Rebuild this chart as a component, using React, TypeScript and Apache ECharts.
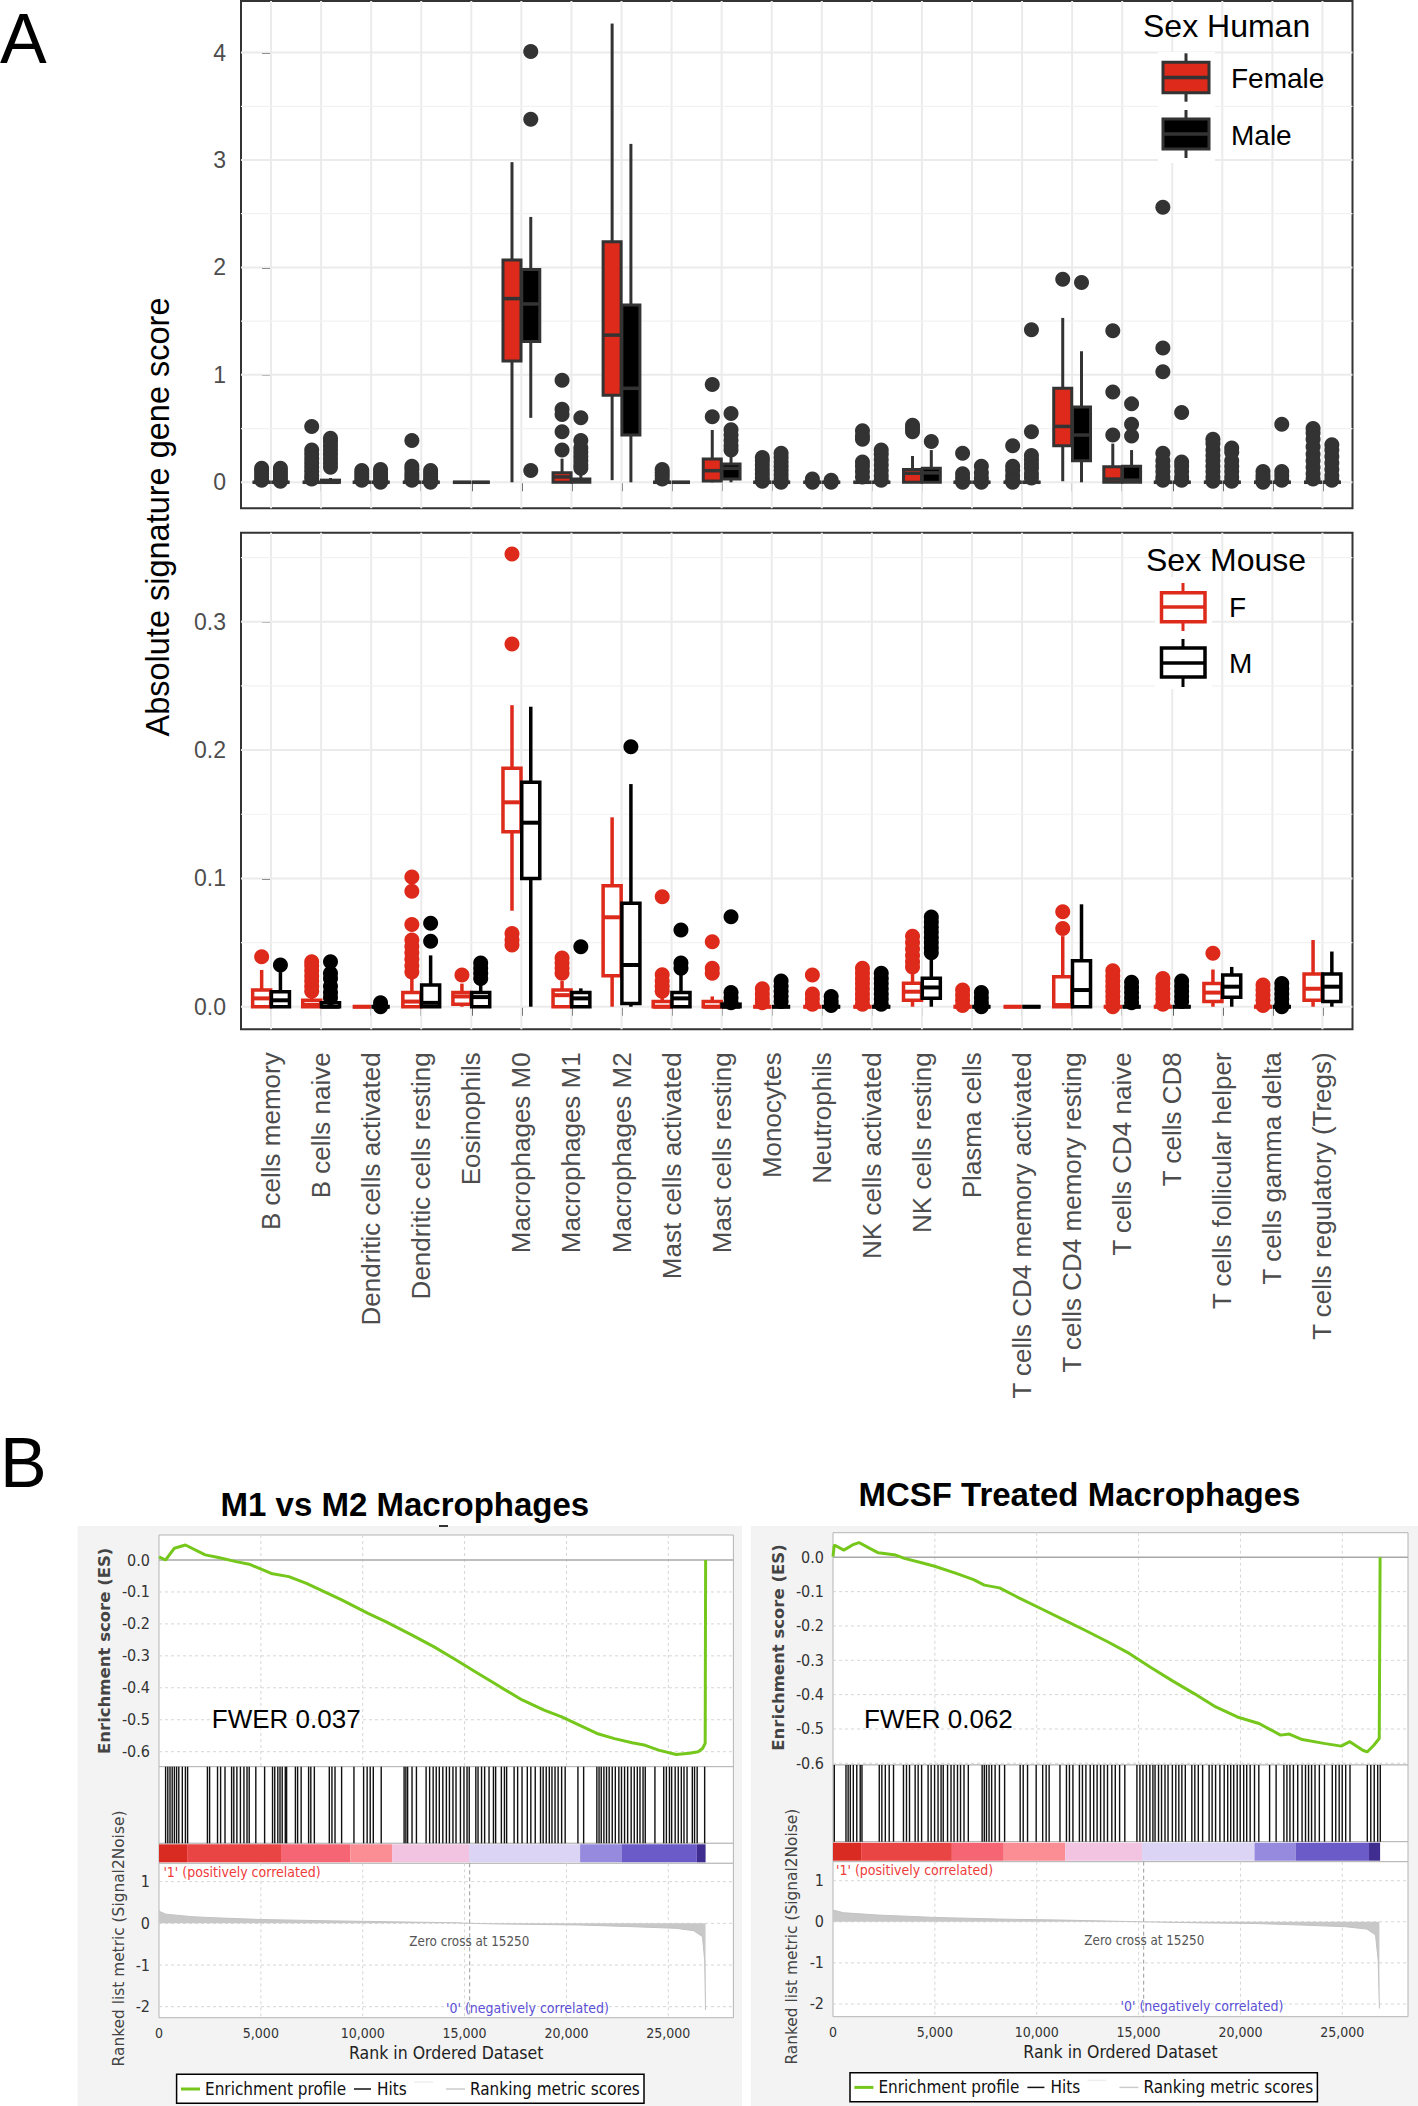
import React, { useEffect, useRef } from 'react';
import * as echarts from 'echarts';

// ---------------- DATA ----------------
const categories = [
  'B cells memory', 'B cells naive', 'Dendritic cells activated', 'Dendritic cells resting', 'Eosinophils',
  'Macrophages M0', 'Macrophages M1', 'Macrophages M2', 'Mast cells activated', 'Mast cells resting',
  'Monocytes', 'Neutrophils', 'NK cells activated', 'NK cells resting', 'Plasma cells',
  'T cells CD4 memory activated', 'T cells CD4 memory resting', 'T cells CD4 naive', 'T cells CD8',
  'T cells follicular helper', 'T cells gamma delta', 'T cells regulatory (Tregs)',
];

// box = [min, q1, median, q3, max]
const humanFemaleBox = [
  [0, 0, 0, 0, 0], [0, 0, 0, 0, 0], [0, 0, 0, 0, 0], [0, 0, 0, 0, 0], [0, 0, 0, 0, 0],
  [0, 1.13, 1.71, 2.07, 2.98], [0, 0, 0.05, 0.09, 0.22], [0.02, 0.81, 1.37, 2.24, 4.27], [0, 0, 0, 0, 0], [0, 0.012, 0.108, 0.217, 0.487],
  [0, 0, 0, 0, 0], [0, 0, 0, 0, 0], [0, 0, 0, 0, 0], [0, 0, 0.084, 0.12, 0.245], [0, 0, 0, 0, 0],
  [0, 0, 0, 0, 0], [0.01, 0.34, 0.52, 0.875, 1.53], [0, 0, 0.03, 0.145, 0.36], [0, 0, 0, 0, 0],
  [0, 0, 0, 0, 0], [0, 0, 0, 0, 0], [0, 0, 0, 0, 0],
];
const humanMaleBox = [
  [0, 0, 0, 0, 0], [0, 0, 0, 0.02, 0.04], [0, 0, 0, 0, 0], [0, 0, 0, 0, 0], [0, 0, 0, 0, 0],
  [0.6, 1.31, 1.66, 1.98, 2.47], [0, 0, 0.01, 0.03, 0.07], [0, 0.44, 0.875, 1.65, 3.15], [0, 0, 0, 0, 0], [0, 0.03, 0.13, 0.17, 0.25],
  [0, 0, 0, 0, 0], [0, 0, 0, 0, 0], [0, 0, 0, 0, 0], [0, 0, 0.088, 0.13, 0.3], [0, 0, 0, 0, 0],
  [0, 0, 0, 0, 0], [0, 0.2, 0.44, 0.7, 1.22], [0, 0, 0.02, 0.15, 0.3], [0, 0, 0, 0, 0],
  [0, 0, 0, 0, 0], [0, 0, 0, 0, 0], [0, 0, 0, 0, 0],
];
const humanFemaleOut = [
  [0.13, 0.11, 0.08, 0.05, 0.02], [0.52, 0.3, 0.26, 0.22, 0.18, 0.14, 0.1, 0.06, 0.03], [0.11, 0.08, 0.05, 0.02],
  [0.39, 0.15, 0.12, 0.08, 0.05, 0.02], [], [], [0.95, 0.68, 0.63, 0.47, 0.3], [], [0.12, 0.09, 0.06, 0.03],
  [0.91, 0.61], [0.23, 0.2, 0.16, 0.12, 0.08, 0.04, 0.01], [0.03, 0.0], [0.48, 0.43, 0.4, 0.19, 0.15, 0.1, 0.05],
  [0.53, 0.5, 0.47], [0.27, 0.08, 0.04, 0.0], [0.34, 0.15, 0.11, 0.06, 0.02, 0.0], [1.89], [1.41, 0.84, 0.44],
  [2.56, 1.25, 1.03, 0.27, 0.2, 0.15, 0.1, 0.05, 0.02], [0.4, 0.36, 0.3, 0.25, 0.2, 0.15, 0.1, 0.05, 0.01],
  [0.1, 0.06, 0.03, 0.0], [0.5, 0.46, 0.4, 0.33, 0.26, 0.2, 0.14, 0.08, 0.03],
];
const humanMaleOut = [
  [0.13, 0.1, 0.07, 0.04, 0.01], [0.41, 0.38, 0.34, 0.3, 0.26, 0.22, 0.18, 0.14], [0.12, 0.09, 0.06, 0.03, 0.0],
  [0.11, 0.08, 0.05, 0.02, 0.0], [], [4.01, 3.38, 0.11], [0.6, 0.39, 0.32, 0.28, 0.24, 0.2, 0.16, 0.13], [], [],
  [0.64, 0.49, 0.44, 0.39, 0.34, 0.3], [0.27, 0.23, 0.19, 0.15, 0.11, 0.07, 0.03, 0.0], [0.02, 0.0],
  [0.3, 0.26, 0.21, 0.16, 0.11, 0.06, 0.02], [0.38], [0.15, 0.09, 0.04, 0.0], [1.42, 0.47, 0.25, 0.21, 0.17, 0.13, 0.08, 0.04],
  [1.86], [0.73, 0.54, 0.43], [0.65, 0.19, 0.15, 0.1, 0.05, 0.02], [0.32, 0.28, 0.2, 0.15, 0.1, 0.05, 0.01],
  [0.54, 0.1, 0.06, 0.02], [0.35, 0.3, 0.24, 0.18, 0.12, 0.06, 0.02],
];

const mouseFemaleBox = [
  [0, 0, 0.0065, 0.013, 0.0286], [0, 0, 0.0015, 0.005, 0.01], [0, 0, 0, 0, 0], [0, 0, 0.004, 0.011, 0.024], [0, 0.002, 0.008, 0.011, 0.018],
  [0.0748, 0.1364, 0.1593, 0.1858, 0.235], [0, 0, 0.009, 0.013, 0.02], [0, 0.0242, 0.0697, 0.0943, 0.1476], [0, 0, 0, 0.004, 0.008], [0, 0, 0, 0.004, 0.008],
  [0, 0, 0, 0, 0], [0, 0, 0, 0, 0], [0, 0, 0, 0, 0], [0, 0.005, 0.0117, 0.0182, 0.0286], [0, 0, 0, 0, 0],
  [0, 0, 0, 0, 0], [0, 0, 0.0013, 0.0234, 0.055], [0, 0, 0, 0, 0], [0, 0, 0, 0, 0],
  [0, 0.004, 0.011, 0.018, 0.029], [0, 0, 0, 0, 0], [0, 0.005, 0.014, 0.0255, 0.052],
];
const mouseMaleBox = [
  [0, 0, 0.005, 0.0117, 0.027], [0, 0, 0, 0.003, 0.007], [0, 0, 0, 0, 0], [0, 0, 0.003, 0.017, 0.04], [0, 0, 0.0075, 0.011, 0.017],
  [0, 0.1, 0.1434, 0.1749, 0.2338], [0, 0, 0.0065, 0.011, 0.0143], [0, 0.0026, 0.0325, 0.0806, 0.1735], [0, 0, 0.0065, 0.011, 0.0312], [0, 0, 0, 0.002, 0.004],
  [0, 0, 0, 0, 0], [0, 0, 0, 0, 0], [0, 0, 0, 0, 0], [0, 0.0065, 0.015, 0.0221, 0.0377], [0, 0, 0, 0, 0],
  [0, 0, 0, 0, 0], [0, 0, 0.013, 0.0358, 0.0798], [0, 0, 0, 0, 0], [0, 0, 0, 0, 0],
  [0, 0.0073, 0.0156, 0.0247, 0.031], [0, 0, 0, 0, 0], [0, 0.004, 0.0156, 0.0255, 0.043],
];
const mouseFemaleOut = [
  [0.039], [0.035, 0.032, 0.028, 0.024, 0.02, 0.016, 0.012], [], [0.101, 0.09, 0.064, 0.052, 0.047, 0.042, 0.037, 0.032, 0.027],
  [0.0247], [0.3528, 0.2826, 0.057, 0.052, 0.048], [0.038, 0.034, 0.03, 0.026], [], [0.0857, 0.025, 0.02, 0.016, 0.012],
  [0.0507, 0.03, 0.026], [0.014, 0.01, 0.006, 0.003], [0.0247, 0.01, 0.006, 0.002], [0.03, 0.026, 0.022, 0.018, 0.014, 0.01, 0.006, 0.002],
  [0.055, 0.05, 0.045, 0.04, 0.035, 0.031], [0.013, 0.009, 0.005, 0.001], [], [0.074, 0.061],
  [0.028, 0.024, 0.02, 0.016, 0.012, 0.008, 0.004, 0.0], [0.022, 0.018, 0.014, 0.01, 0.006, 0.002], [0.0416],
  [0.017, 0.013, 0.009, 0.005, 0.001], [],
];
const mouseMaleOut = [
  [0.0325], [0.035, 0.026, 0.022, 0.016, 0.011, 0.007], [0.003, 0.0], [0.065, 0.051], [0.034, 0.03, 0.026, 0.022],
  [], [0.0468], [0.2026], [0.0597, 0.034, 0.03], [0.0701, 0.011, 0.007, 0.003], [0.02, 0.016, 0.012, 0.008, 0.004],
  [0.008, 0.004, 0.001], [0.026, 0.022, 0.018, 0.014, 0.01, 0.006, 0.002], [0.07, 0.066, 0.062, 0.058, 0.054, 0.05, 0.046, 0.042],
  [0.011, 0.007, 0.003, 0.0], [], [], [0.019, 0.015, 0.011, 0.007, 0.003], [0.02, 0.016, 0.012, 0.008, 0.004], [],
  [0.018, 0.014, 0.01, 0.006, 0.002, 0.0], [],
];

const humanYTicks = [0, 1, 2, 3, 4];
const humanYMinor = [0.5, 1.5, 2.5, 3.5];
const mouseYTicks = [0, 0.1, 0.2, 0.3];
const mouseYMinor = [0.05, 0.15, 0.25, 0.35];

// GSEA
const rankTicks = [0, 5000, 10000, 15000, 20000, 25000];
const esTicks = [0, -0.1, -0.2, -0.3, -0.4, -0.5, -0.6];
const metricTicks = [1, 0, -1, -2];
const zeroCross = 15250;

const esLeft = [
  [0, 0.01], [324, 0.0], [756, 0.037], [1296, 0.047], [2268, 0.016], [2917, 0.008], [3781, -0.005], [4429, -0.013],
  [5510, -0.042], [6374, -0.052], [7238, -0.073], [8103, -0.099], [8967, -0.125], [10262, -0.167], [11127, -0.193],
  [12423, -0.235], [13504, -0.272], [14584, -0.313], [15664, -0.355], [16744, -0.397], [17824, -0.438], [18904, -0.47],
  [19768, -0.491], [20632, -0.517], [21496, -0.543], [22360, -0.559], [23224, -0.572], [23872, -0.58], [24520, -0.595],
  [25384, -0.609], [26032, -0.605], [26464, -0.6], [26680, -0.59], [26810, -0.574], [26832, 0.0],
];
const esRight = [
  [0, 0.002], [64, 0.036], [531, 0.021], [955, 0.036], [1273, 0.043], [1804, 0.026], [2229, 0.013], [3078, 0.0065],
  [3503, -0.003], [4352, -0.016], [4989, -0.026], [6050, -0.047], [6900, -0.065], [7431, -0.081], [8174, -0.089],
  [9023, -0.115], [10297, -0.152], [11358, -0.183], [12420, -0.214], [13481, -0.246], [14542, -0.28], [15604, -0.321],
  [16665, -0.36], [17727, -0.397], [18788, -0.436], [19849, -0.465], [20911, -0.484], [21972, -0.518], [22397, -0.515],
  [23034, -0.531], [24095, -0.542], [24944, -0.55], [25369, -0.537], [26006, -0.562], [26219, -0.567], [26537, -0.548],
  [26813, -0.528], [26856, 0.0],
];
const metricLeft = [
  [0, 0.3], [65, 0.28], [324, 0.22], [1620, 0.16], [2700, 0.134], [4860, 0.094], [8100, 0.062], [11340, 0.038],
  [14580, 0.014], [15250, 0], [16740, -0.016], [20628, -0.04], [23220, -0.08], [25380, -0.12], [26244, -0.176],
  [26676, -0.32], [26784, -0.88], [26827, -2.08],
];
const metricRight = [
  [0, 0.285], [530, 0.22], [2228, 0.164], [4987, 0.107], [8170, 0.066], [11353, 0.041], [15172, 0.0], [17719, -0.024],
  [20690, -0.041], [23025, -0.08], [25146, -0.12], [26207, -0.177], [26631, -0.32], [26759, -0.93], [26822, -2.11],
];
const hitsLeft = [
  324, 432, 540, 648, 756, 864, 972, 1145, 1296, 1404,
  2376, 2484, 2873, 3024, 3240, 3564, 3672, 3823, 3996, 4169, 4320, 4428, 4752, 5184,
  5573, 5681, 5832, 5940, 6048, 6199, 6264, 6696, 6804, 6977, 7344, 7452, 7625,
  8359, 8489, 8640, 8964, 9569, 10044, 10217, 10368, 10519, 10908,
  12031, 12118, 12204, 12420, 12636, 13111, 13284, 13457, 13608, 13759, 13932, 14105, 14256, 14429, 14580, 14796, 14969, 15120, 15228,
  15552, 15660, 15833, 15984, 16200, 16416, 16524, 16805, 16956, 17064, 17431, 17604, 17820, 18079, 18252, 18468,
  18727, 18857, 19008, 19159, 19289, 19440, 19591, 19764, 19937, 20563, 20844,
  21492, 21600, 21708, 21838, 21967, 22097, 22248, 22399, 22572, 22702, 22853, 23004, 23177, 23328, 23479, 23609, 23760, 23868,
  24343, 24775, 24905, 25056, 25164, 25337, 25488, 25639, 25769, 25920, 26179, 26287, 26417, 26784,
];
const hitsRight = [
  64, 637, 743, 849, 997, 1167, 1337, 1422, 2271, 2398, 2568, 2759, 2971, 3459, 3607, 3756, 4032, 4180, 4350,
  4668, 4817, 4987, 5156, 5305, 5411, 5623, 5793, 5942, 6111, 6260, 6430, 6642, 7321, 7427, 7533, 7660, 7788, 7958, 8170,
  8424, 9188, 9337, 9549, 9973, 10292, 10462, 10610, 11141, 11459, 11607, 11777, 12095, 12244, 12414,
  12626, 12796, 12965, 13135, 13305, 13475, 13687, 13857, 14069, 14324, 14918, 15066, 15215, 15385, 15554, 15703, 15809,
  15979, 16127, 16297, 16446, 16658, 16827, 16976, 17125, 17294, 17613, 17761, 17931, 18143, 18461, 18610, 18780,
  18992, 19204, 19374, 19522, 19671, 19841, 19989, 20159, 20308, 20477, 20690, 20902, 21432, 21751,
  22133, 22281, 22430, 22600, 22812, 23025, 23194, 23343, 23492, 23661, 23873, 24127,
  24508, 24678, 24847, 24996, 25166, 25378, 26227, 26397, 26567, 26737, 26864,
];
const cbarLeftEdges = [0, 1380, 5990, 9400, 11440, 15220, 20670, 22700, 26400, 26830];
const cbarRightEdges = [0, 1380, 5835, 8382, 11395, 15172, 20690, 22705, 26312, 26856];
const cbarColors = ['#d92b22', '#ea4545', '#f56574', '#fb8d94', '#f3c3e2', '#dcd4f4', '#958ade', '#6b5bc8', '#402d90'];

// ---------------- STYLE / LAYOUT ----------------
const RED = '#dd2a1b';
const DARK = '#333333';
const GG = "'Liberation Sans', Arial, Helvetica, sans-serif";
const GF = "'DejaVu Sans Condensed', 'Liberation Sans Narrow', 'DejaVu Sans', sans-serif";
const DODGE = [-0.1875, 0.1875];
const BOXW = 0.36;
const GREEN = '#76c71c';

const fmtComma = (v: number) => String(Math.round(v)).replace(/\B(?=(\d{3})+(?!\d))/g, ',');

function vLines(ai: number, vals: number[], style: any, z = 1) {
  return {
    type: 'custom', xAxisIndex: ai, yAxisIndex: ai, silent: true, z,
    data: vals.map((v) => [v, 0]),
    renderItem: (params: any, api: any) => {
      const cs = params.coordSys;
      const x = api.coord([api.value(0), 0])[0];
      return { type: 'line', shape: { x1: x, y1: cs.y, x2: x, y2: cs.y + cs.height }, style };
    },
  };
}
function hLines(ai: number, x0: number, vals: number[], style: any, z = 1) {
  return {
    type: 'custom', xAxisIndex: ai, yAxisIndex: ai, silent: true, z,
    data: vals.map((v) => [x0, v]),
    renderItem: (params: any, api: any) => {
      const cs = params.coordSys;
      const y = api.coord([api.value(0), api.value(1)])[1];
      return { type: 'line', shape: { x1: cs.x, y1: y, x2: cs.x + cs.width, y2: y }, style };
    },
  };
}
function boxSeries(ai: number, f: number[][], m: number[][], fills: string[], strokes: string[], lw: number, medW: number) {
  const data: number[][] = [];
  f.forEach((b, i) => data.push([i, 0, ...b]));
  m.forEach((b, i) => data.push([i, 1, ...b]));
  return {
    type: 'custom', xAxisIndex: ai, yAxisIndex: ai, z: 3, data,
    renderItem: (params: any, api: any) => {
      const sex = api.value(1);
      const xc = api.value(0) + DODGE[sex];
      const pl = api.coord([xc - BOXW / 2, api.value(5)]);
      const pr = api.coord([xc + BOXW / 2, api.value(3)]);
      const pm = api.coord([xc, api.value(4)]);
      const ymax = api.coord([xc, api.value(6)])[1];
      const ymin = api.coord([xc, api.value(2)])[1];
      const stroke = strokes[sex];
      const fill = fills[sex];
      return {
        type: 'group', children: [
          { type: 'line', shape: { x1: pm[0], y1: ymax, x2: pm[0], y2: pl[1] }, style: { stroke, lineWidth: lw } },
          { type: 'line', shape: { x1: pm[0], y1: pr[1], x2: pm[0], y2: ymin }, style: { stroke, lineWidth: lw } },
          { type: 'rect', shape: { x: pl[0], y: pl[1], width: pr[0] - pl[0], height: pr[1] - pl[1] }, style: { fill, stroke, lineWidth: lw } },
          { type: 'line', shape: { x1: pl[0], y1: pm[1], x2: pr[0], y2: pm[1] }, style: { stroke, lineWidth: medW } },
        ],
      };
    },
  };
}
function outSeries(ai: number, f: number[][], m: number[][], fills: string[], r: number) {
  const data: number[][] = [];
  f.forEach((arr, i) => arr.forEach((v) => data.push([i, 0, v])));
  m.forEach((arr, i) => arr.forEach((v) => data.push([i, 1, v])));
  return {
    type: 'custom', xAxisIndex: ai, yAxisIndex: ai, z: 4, data,
    renderItem: (params: any, api: any) => {
      const sex = api.value(1);
      const p = api.coord([api.value(0) + DODGE[sex], api.value(2)]);
      return { type: 'circle', shape: { cx: p[0], cy: p[1], r }, style: { fill: fills[sex] } };
    },
  };
}
function hitSeries(ai: number, hits: number[]) {
  return {
    type: 'custom', xAxisIndex: ai, yAxisIndex: ai, silent: true, z: 3,
    data: hits.map((h) => [h, 0]),
    renderItem: (params: any, api: any) => {
      const cs = params.coordSys;
      const x = api.coord([api.value(0), 0])[0];
      return { type: 'line', shape: { x1: x, y1: cs.y, x2: x, y2: cs.y + cs.height }, style: { stroke: '#111', lineWidth: 1.4 } };
    },
  };
}
function cbarSeries(ai: number, edges: number[]) {
  const data = edges.slice(0, -1).map((e, i) => [e, edges[i + 1]]);
  return {
    type: 'custom', xAxisIndex: ai, yAxisIndex: ai, silent: true, z: 3, data,
    renderItem: (params: any, api: any) => {
      const cs = params.coordSys;
      const x1 = api.coord([api.value(0), 0])[0];
      const x2 = api.coord([api.value(1), 0])[0];
      return { type: 'rect', shape: { x: x1, y: cs.y + 1, width: x2 - x1, height: cs.height - 2 }, style: { fill: cbarColors[params.dataIndex] } };
    },
  };
}

const txt = (x: number, y: number, text: string, font: string, fill: string, align = 'left', rotation = 0) => ({
  type: 'text', x, y, rotation, z: 100,
  style: { text, font, fill, align, verticalAlign: 'middle', textAlign: align, textVerticalAlign: 'middle' },
});
const gline = (x1: number, y1: number, x2: number, y2: number, stroke: string, lineWidth: number, z = 60) => ({
  type: 'line', z, shape: { x1, y1, x2, y2 }, style: { stroke, lineWidth },
});
const grect = (x: number, y: number, w: number, h: number, fill: string, stroke: string | null, lineWidth: number, z = 60) => ({
  type: 'rect', z, shape: { x, y, width: w, height: h }, style: { fill, stroke: stroke || undefined, lineWidth },
});

function gseaLegend(dx: number, dy: number) {
  const y = 2089 + dy;
  return [
    grect(176.6 + dx, 2074.3 + dy, 467.4, 29, '#fff', '#000', 1.5, 90),
    gline(181 + dx, y, 200 + dx, y, GREEN, 3, 95),
    txt(205 + dx, y, 'Enrichment profile', `17px ${GF}`, '#111'),
    gline(354 + dx, y, 371 + dx, y, '#111', 1.5, 95),
    txt(377 + dx, y, 'Hits', `17px ${GF}`, '#111'),
    gline(414 + dx, y - 7, 433 + dx, y - 7, '#eeeeee', 1.5, 95),
    gline(446 + dx, y, 465 + dx, y, '#cccccc', 1.5, 95),
    txt(470 + dx, y, 'Ranking metric scores', `17px ${GF}`, '#111'),
  ];
}

function buildOption() {
  const idx = categories.map((_, i) => i);
  const majorGrid = { stroke: '#ebebeb', lineWidth: 2 };
  const minorGrid = { stroke: '#f2f2f2', lineWidth: 1.2 };
  const dashGrid = { stroke: '#d6d6d6', lineWidth: 1, lineDash: [3, 3] };
  const gridBox = { show: true, backgroundColor: '#fff', borderColor: '#b4b4b4', borderWidth: 1 };
  const tickStyle = { show: true, length: 9, lineStyle: { color: DARK, width: 2 } };
  const hiddenAxis = { axisLine: { show: false }, axisTick: { show: false }, axisLabel: { show: false }, splitLine: { show: false } };

  const gseaX = (gi: number, max: number, labels: boolean) => ({
    type: 'value', gridIndex: gi, min: 0, max,
    axisLine: { show: false }, axisTick: { show: false }, splitLine: { show: false },
    axisLabel: labels
      ? { customValues: rankTicks, formatter: fmtComma, fontSize: 14, color: '#333', fontFamily: GF, margin: 8 }
      : { show: false },
  });
  const gseaY = (gi: number, min: number, max: number, ticks: number[] | null, fmt?: (v: number) => string) => ({
    type: 'value', gridIndex: gi, min, max,
    axisLine: { show: false }, axisTick: { show: false }, splitLine: { show: false },
    axisLabel: ticks
      ? { customValues: ticks, formatter: fmt, fontSize: 16, color: '#333', fontFamily: GF, margin: 9 }
      : { show: false },
  });

  return {
    animation: false,
    backgroundColor: '#fff',
    grid: [
      { left: 241, top: 1, width: 1111.5, height: 507.3, show: true, backgroundColor: '#fff', borderColor: DARK, borderWidth: 2 },
      { left: 241, top: 532.7, width: 1111.5, height: 496.6, show: true, backgroundColor: '#fff', borderColor: DARK, borderWidth: 2 },
      { left: 159, top: 1535, width: 574.4, height: 231.7, ...gridBox },
      { left: 159, top: 1766.7, width: 574.4, height: 76.6, ...gridBox },
      { left: 159, top: 1843.3, width: 574.4, height: 20, ...gridBox },
      { left: 159, top: 1863.3, width: 574.4, height: 154.4, ...gridBox },
      { left: 833, top: 1532.7, width: 575, height: 232.3, ...gridBox },
      { left: 833, top: 1765, width: 575, height: 76.7, ...gridBox },
      { left: 833, top: 1841.7, width: 575, height: 20, ...gridBox },
      { left: 833, top: 1861.7, width: 575, height: 155, ...gridBox },
    ],
    xAxis: [
      {
        type: 'value', gridIndex: 0, min: -0.6, max: 21.6,
        axisLine: { show: false }, splitLine: { show: false },
        axisTick: { ...tickStyle, customValues: idx }, axisLabel: { show: false },
      },
      {
        type: 'value', gridIndex: 1, min: -0.6, max: 21.6,
        axisLine: { show: false }, splitLine: { show: false },
        axisTick: { ...tickStyle, customValues: idx },
        axisLabel: {
          customValues: idx, formatter: (v: number) => categories[Math.round(v)] || '',
          rotate: 90, fontSize: 26, color: '#4d4d4d', fontFamily: GG, margin: 23,
        },
      },
      gseaX(2, 28195, false), gseaX(3, 28195, false), gseaX(4, 28195, false), gseaX(5, 28195, true),
      gseaX(6, 28225, false), gseaX(7, 28225, false), gseaX(8, 28225, false), gseaX(9, 28225, true),
    ],
    yAxis: [
      {
        type: 'value', gridIndex: 0, min: -0.242, max: 4.48,
        axisLine: { show: false }, splitLine: { show: false },
        axisTick: { ...tickStyle, customValues: humanYTicks },
        axisLabel: { customValues: humanYTicks, fontSize: 23, color: '#4d4d4d', fontFamily: GG, margin: 15 },
      },
      {
        type: 'value', gridIndex: 1, min: -0.0176, max: 0.3694,
        axisLine: { show: false }, splitLine: { show: false },
        axisTick: { ...tickStyle, customValues: mouseYTicks },
        axisLabel: { customValues: mouseYTicks, formatter: (v: number) => v.toFixed(1), fontSize: 23, color: '#4d4d4d', fontFamily: GG, margin: 15 },
      },
      gseaY(2, -0.647, 0.0783, esTicks, (v: number) => v.toFixed(1)),
      { type: 'value', gridIndex: 3, min: 0, max: 1, ...hiddenAxis },
      { type: 'value', gridIndex: 4, min: 0, max: 1, ...hiddenAxis },
      gseaY(5, -2.264, 1.44, metricTicks, (v: number) => String(v)),
      gseaY(6, -0.605, 0.0717, esTicks, (v: number) => v.toFixed(1)),
      { type: 'value', gridIndex: 7, min: 0, max: 1, ...hiddenAxis },
      { type: 'value', gridIndex: 8, min: 0, max: 1, ...hiddenAxis },
      gseaY(9, -2.31, 1.463, metricTicks, (v: number) => String(v)),
    ],
    series: [
      // Human panel
      vLines(0, idx, majorGrid),
      hLines(0, 0, humanYMinor, minorGrid),
      hLines(0, 0, humanYTicks, majorGrid),
      boxSeries(0, humanFemaleBox, humanMaleBox, [RED, '#000'], [DARK, DARK], 3, 3.5),
      outSeries(0, humanFemaleOut, humanMaleOut, [DARK, DARK], 7.5),
      // Mouse panel
      vLines(1, idx, majorGrid),
      hLines(1, 0, mouseYMinor, minorGrid),
      hLines(1, 0, mouseYTicks, majorGrid),
      boxSeries(1, mouseFemaleBox, mouseMaleBox, ['#fff', '#fff'], [RED, '#000'], 3.5, 4),
      outSeries(1, mouseFemaleOut, mouseMaleOut, [RED, '#000'], 7.5),
      // GSEA left
      vLines(2, rankTicks.slice(1), dashGrid),
      hLines(2, 0, esTicks.slice(1), dashGrid),
      hLines(2, 0, [0], { stroke: '#a8a8a8', lineWidth: 1.5 }),
      { type: 'line', xAxisIndex: 2, yAxisIndex: 2, data: esLeft, symbol: 'none', lineStyle: { color: GREEN, width: 3 }, z: 5 },
      hitSeries(3, hitsLeft),
      cbarSeries(4, cbarLeftEdges),
      vLines(5, rankTicks.slice(1), dashGrid),
      hLines(5, 0, metricTicks, dashGrid),
      { type: 'line', xAxisIndex: 5, yAxisIndex: 5, data: metricLeft, symbol: 'none', lineStyle: { color: '#c2c2c2', width: 1 }, areaStyle: { color: '#c8c8c8', opacity: 1, origin: 'auto' }, z: 3 },
      vLines(5, [zeroCross], { stroke: '#9a9a9a', lineWidth: 1, lineDash: [4, 3] }, 4),
      // GSEA right
      vLines(6, rankTicks.slice(1), dashGrid),
      hLines(6, 0, esTicks.slice(1), dashGrid),
      hLines(6, 0, [0], { stroke: '#a8a8a8', lineWidth: 1.5 }),
      { type: 'line', xAxisIndex: 6, yAxisIndex: 6, data: esRight, symbol: 'none', lineStyle: { color: GREEN, width: 3 }, z: 5 },
      hitSeries(7, hitsRight),
      cbarSeries(8, cbarRightEdges),
      vLines(9, rankTicks.slice(1), dashGrid),
      hLines(9, 0, metricTicks, dashGrid),
      { type: 'line', xAxisIndex: 9, yAxisIndex: 9, data: metricRight, symbol: 'none', lineStyle: { color: '#c2c2c2', width: 1 }, areaStyle: { color: '#c8c8c8', opacity: 1, origin: 'auto' }, z: 3 },
      vLines(9, [zeroCross], { stroke: '#9a9a9a', lineWidth: 1, lineDash: [4, 3] }, 4),
    ],
    graphic: {
      elements: [
        // Panel B grey backgrounds
        { type: 'rect', z: -10, shape: { x: 77.6, y: 1526, width: 664.4, height: 580 }, style: { fill: '#f3f3f3' } },
        { type: 'rect', z: -10, shape: { x: 750.8, y: 1526, width: 667.2, height: 580 }, style: { fill: '#f3f3f3' } },
        // Panel letters
        txt(0, 38.5, 'A', `70px ${GG}`, '#000'),
        txt(0, 1462.5, 'B', `70px ${GG}`, '#000'),
        txt(158, 517, 'Absolute signature gene score', `32.5px ${GG}`, '#000', 'center', Math.PI / 2),
        // Human legend
        txt(1143, 25.8, 'Sex Human', `32px ${GG}`, '#000'),
        grect(1158, 52, 57, 111, '#fff', null, 0, 50),
        gline(1186, 53.3, 1186, 101.7, DARK, 3),
        grect(1163, 62.3, 46, 30.4, RED, DARK, 3),
        gline(1163, 77.5, 1209, 77.5, DARK, 3.5),
        txt(1231, 78, 'Female', `28px ${GG}`, '#000'),
        gline(1186, 110, 1186, 158, DARK, 3),
        grect(1163, 119, 46, 30, '#000', DARK, 3),
        gline(1163, 134, 1209, 134, DARK, 3.5),
        txt(1231, 135, 'Male', `28px ${GG}`, '#000'),
        // Mouse legend
        txt(1146, 560, 'Sex Mouse', `32px ${GG}`, '#000'),
        grect(1155, 577, 57, 112, '#fff', null, 0, 50),
        gline(1183, 583, 1183, 631, RED, 3),
        grect(1161.5, 592.7, 43.5, 29, '#fff', RED, 3.5),
        gline(1161.5, 607, 1205, 607, RED, 3.5),
        txt(1229, 607, 'F', `28px ${GG}`, '#000'),
        gline(1183, 639, 1183, 687, '#000', 3),
        grect(1161.5, 648, 43.5, 29, '#fff', '#000', 3.5),
        gline(1161.5, 663, 1205, 663, '#000', 3.5),
        txt(1229, 663, 'M', `28px ${GG}`, '#000'),
        // GSEA left texts
        txt(404.9, 1504.2, 'M1 vs M2 Macrophages', `bold 33px ${GG}`, '#000', 'center'),
        gline(439, 1526, 448, 1526, '#333', 2),
        txt(211.8, 1719, 'FWER 0.037', `26px ${GG}`, '#000'),
        txt(104, 1650.8, 'Enrichment score (ES)', "bold 16.5px 'DejaVu Sans', sans-serif", '#444', 'center', Math.PI / 2),
        txt(118.5, 1938.5, 'Ranked list metric (Signal2Noise)', "15.4px 'DejaVu Sans', sans-serif", '#444', 'center', Math.PI / 2),
        txt(163.4, 1871.7, "'1' (positively correlated)", `14px ${GF}`, '#ee3b3b'),
        txt(469.3, 1941.7, 'Zero cross at 15250', `13.3px ${GF}`, '#555', 'center'),
        txt(446, 2007.7, "'0' (negatively correlated)", `14px ${GF}`, '#5b50d6'),
        txt(446.2, 2053.3, 'Rank in Ordered Dataset', `17.5px ${GF}`, '#222', 'center'),
        ...gseaLegend(0, 0),
        // GSEA right texts
        txt(1079.4, 1494.2, 'MCSF Treated Macrophages', `bold 33px ${GG}`, '#000', 'center'),
        txt(864, 1719, 'FWER 0.062', `26px ${GG}`, '#000'),
        txt(778, 1647.5, 'Enrichment score (ES)', "bold 16.5px 'DejaVu Sans', sans-serif", '#444', 'center', Math.PI / 2),
        txt(792, 1936.7, 'Ranked list metric (Signal2Noise)', "15.4px 'DejaVu Sans', sans-serif", '#444', 'center', Math.PI / 2),
        txt(836, 1870, "'1' (positively correlated)", `14px ${GF}`, '#ee3b3b'),
        txt(1144.3, 1940, 'Zero cross at 15250', `13.3px ${GF}`, '#555', 'center'),
        txt(1120.5, 2006, "'0' (negatively correlated)", `14px ${GF}`, '#5b50d6'),
        txt(1120.5, 2051.7, 'Rank in Ordered Dataset', `17.5px ${GF}`, '#222', 'center'),
        ...gseaLegend(673.4, -1.6),
      ],
    },
  };
}

export default function App() {
  const ref = useRef<HTMLDivElement>(null);
  useEffect(() => {
    document.body.style.margin = '0';
    const chart = echarts.init(ref.current as HTMLDivElement, undefined, { renderer: 'svg' });
    chart.setOption(buildOption() as any);
    return () => chart.dispose();
  }, []);
  return <div ref={ref} style={{ width: 1418, height: 2106 }} />;
}
